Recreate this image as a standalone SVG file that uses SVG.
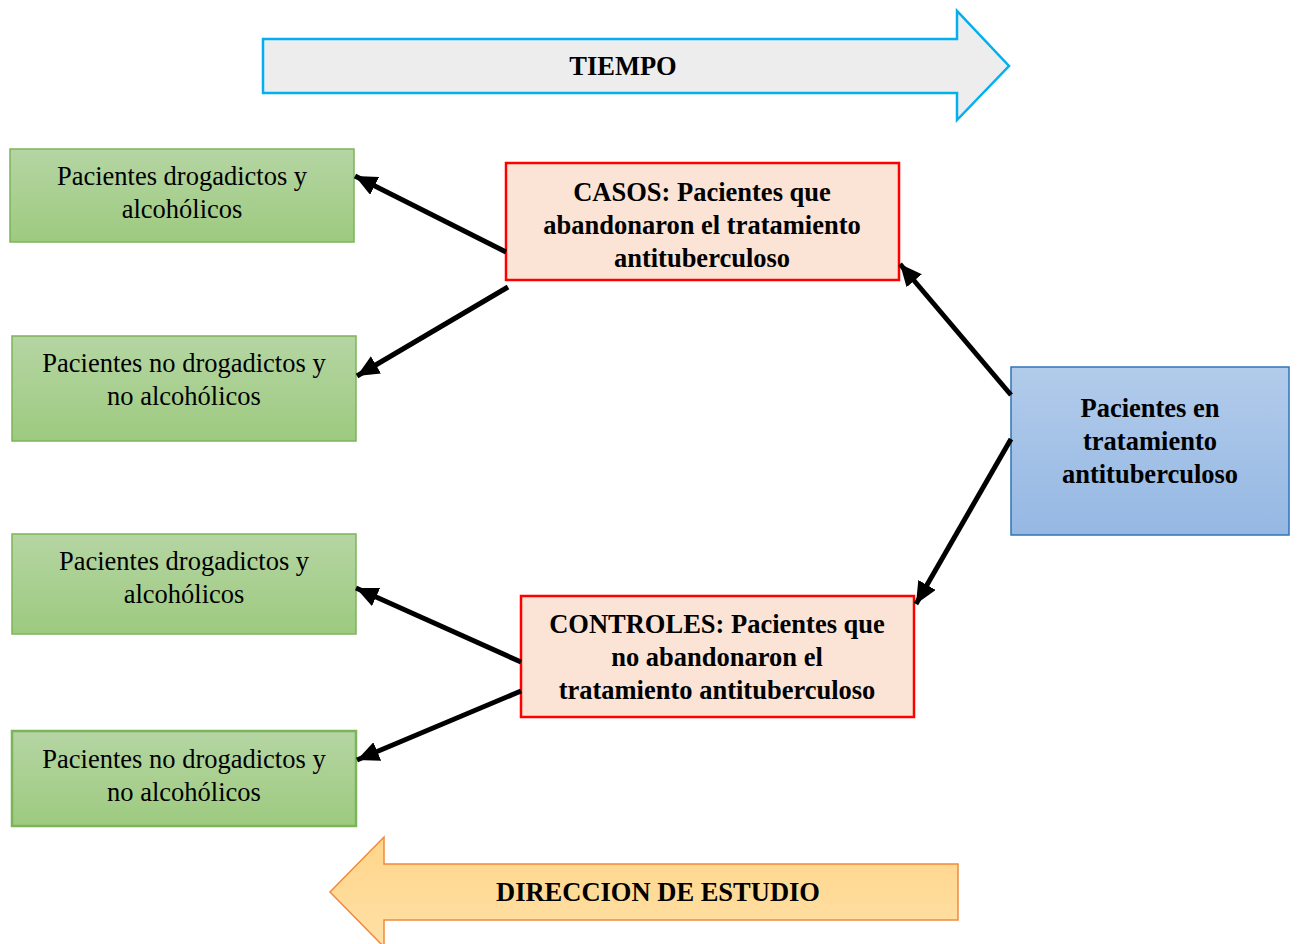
<svg xmlns="http://www.w3.org/2000/svg" width="1297" height="944" viewBox="0 0 1297 944">
<defs>
<linearGradient id="gGreen" x1="0" y1="0" x2="0" y2="1"><stop offset="0" stop-color="#b5d5a3"/><stop offset="1" stop-color="#9dca7f"/></linearGradient>
<linearGradient id="gBlue" x1="0" y1="0" x2="0" y2="1"><stop offset="0" stop-color="#b2cbeb"/><stop offset="1" stop-color="#95b8e3"/></linearGradient>
<linearGradient id="gOrange" x1="0" y1="0" x2="0" y2="1"><stop offset="0" stop-color="#ffd68a"/><stop offset="1" stop-color="#ffe0a6"/></linearGradient>
<marker id="ah" markerUnits="userSpaceOnUse" markerWidth="24" markerHeight="20" refX="22" refY="10" orient="auto"><path d="M0,0 L22,10 L0,20 Z" fill="#000"/></marker>
</defs>
<style>
.g{fill:url(#gGreen);stroke:#7cb45a;stroke-width:1.5}
.pk{fill:#fbe4d6;stroke:#ff0000;stroke-width:2.5}
.t{font-family:'Liberation Serif','Times New Roman','DejaVu Serif',serif;font-size:26.5px;fill:#000;text-anchor:middle}
.b{font-weight:bold}
.c{stroke:#000;stroke-width:5;fill:none;marker-end:url(#ah)}
</style>
<rect width="1297" height="944" fill="#fff"/>
<g id="tiempo">
<path d="M263,39 L957,39 L957,11 L1009,66 L957,120 L957,93 L263,93 Z" fill="#ededed" stroke="#00b0f0" stroke-width="2.5"/>
<text class="t b" x="623" y="75">TIEMPO</text>
</g>
<g id="direccion">
<path d="M958,864 L384,864 L384,837 L330,892 L384,947 L384,920 L958,920 Z" fill="url(#gOrange)" stroke="#f08a3c" stroke-width="1.5"/>
<text class="t b" x="658" y="901">DIRECCION DE ESTUDIO</text>
</g>
<g id="g1">
<rect class="g" x="10" y="149" width="344" height="93"/>
<text class="t" x="182" y="185">Pacientes drogadictos y</text>
<text class="t" x="182" y="218">alcohólicos</text>
</g>
<g id="g2">
<rect class="g" x="12" y="336" width="344" height="105"/>
<text class="t" x="184" y="372">Pacientes no drogadictos y</text>
<text class="t" x="184" y="405">no alcohólicos</text>
</g>
<g id="g3">
<rect class="g" x="12" y="534" width="344" height="100"/>
<text class="t" x="184" y="570">Pacientes drogadictos y</text>
<text class="t" x="184" y="603">alcohólicos</text>
</g>
<g id="g4">
<rect class="g" x="12" y="731" width="344" height="95" stroke="#70ad47" style="stroke-width:2.5"/>
<text class="t" x="184" y="768">Pacientes no drogadictos y</text>
<text class="t" x="184" y="801">no alcohólicos</text>
</g>
<g id="casos">
<rect class="pk" x="506" y="163" width="393" height="117"/>
<text class="t b" x="702" y="201">CASOS: Pacientes que</text>
<text class="t b" x="702" y="234">abandonaron el tratamiento</text>
<text class="t b" x="702" y="267">antituberculoso</text>
</g>
<g id="controles">
<rect class="pk" x="521" y="596" width="393" height="121"/>
<text class="t b" x="717" y="633">CONTROLES: Pacientes que</text>
<text class="t b" x="717" y="666">no abandonaron el</text>
<text class="t b" x="717" y="699">tratamiento antituberculoso</text>
</g>
<g id="pacientes">
<rect x="1011" y="367" width="278" height="168" fill="url(#gBlue)" stroke="#2e75b6" stroke-width="1.5"/>
<text class="t b" x="1150" y="417">Pacientes en</text>
<text class="t b" x="1150" y="450">tratamiento</text>
<text class="t b" x="1150" y="483">antituberculoso</text>
</g>
<g id="connectors">
<line class="c" x1="506" y1="252" x2="355" y2="176"/>
<line class="c" x1="508" y1="287" x2="357" y2="376"/>
<line class="c" x1="1011" y1="395" x2="900" y2="264"/>
<line class="c" x1="1011" y1="439" x2="916" y2="604"/>
<line class="c" x1="521" y1="662" x2="356" y2="588"/>
<line class="c" x1="521" y1="691" x2="357" y2="760"/>
</g>
</svg>
